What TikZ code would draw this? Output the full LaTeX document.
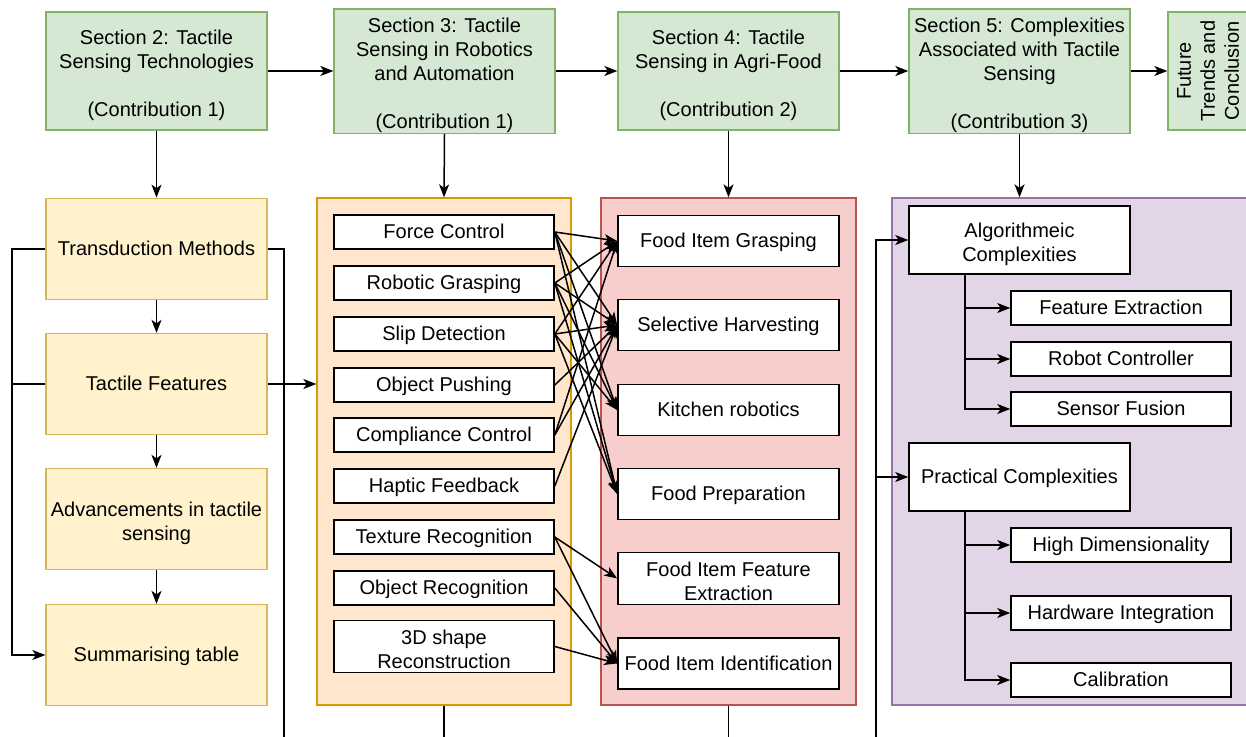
\documentclass[tikz,border=0pt]{standalone}
\usepackage{fontspec}
\setmainfont{Liberation Sans}
\usetikzlibrary{arrows.meta}
\definecolor{gfill}{HTML}{D5E8D4}\definecolor{gline}{HTML}{82B366}
\definecolor{yfill}{HTML}{FFF2CC}\definecolor{yline}{HTML}{D6B656}
\definecolor{ofill}{HTML}{FFE6CC}\definecolor{oline}{HTML}{D79B00}
\definecolor{rfill}{HTML}{F8CECC}\definecolor{rline}{HTML}{B85450}
\definecolor{pfill}{HTML}{E1D5E7}\definecolor{pline}{HTML}{9673A6}
\newcommand{\firstht}{\rule{0pt}{24pt}}
\begin{document}
\begin{tikzpicture}[x=1pt,y=-1pt,font=\fontsize{20}{24}\selectfont,
  arr/.style={line width=1.5pt,-{Stealth[length=13pt,width=10pt,inset=3.5pt]}},
  ln/.style={line width=1.5pt},
  txt/.style={align=center,inner sep=0pt,execute at begin node={\rule{0pt}{18pt}},execute at end node={\rule[-4.3pt]{0pt}{4.3pt}}},
  gbox/.style={txt,draw=gline,fill=gfill,line width=1.3pt,minimum width=221pt,minimum height=118pt},
  ybox/.style={txt,draw=yline,fill=yfill,line width=1.3pt,minimum width=221pt,minimum height=101pt},
  wbox/.style={txt,draw=black,fill=white,line width=1.6pt,minimum width=220pt,minimum height=34pt},
  rbox/.style={txt,draw=black,fill=white,line width=1.6pt,minimum width=221pt,minimum height=51pt}]
\useasboundingbox (0,0) rectangle (1246,736);
% top row
\node[gbox] (s2) at (156.5,71) {\firstht Section 2: Tactile\\Sensing Technologies\\~\\(Contribution 1)};
\node[gbox] (s3) at (444.5,71) {\firstht Section 3: Tactile\\Sensing in Robotics\\and Automation\\~\\(Contribution 1)};
\node[gbox] (s4) at (728.5,71) {\firstht Section 4: Tactile\\Sensing in Agri-Food\\~\\(Contribution 2)};
\node[gbox] (s5) at (1019.5,71) {\firstht Section 5: Complexities\\Associated with Tactile\\Sensing\\~\\(Contribution 3)};
\node[draw=gline,fill=gfill,line width=1.3pt,inner sep=0pt,minimum width=84pt,minimum height=118pt] (fu) at (1210,71) {};
\node[rotate=90,align=center] (fut) at (1208,71) {Future\\Trends and\\Conclusion};
\draw[arr] (s2.east) -- (s3.west);
\draw[arr] (s3.east) -- (s4.west);
\draw[arr] (s4.east) -- (s5.west);
\draw[arr] (s5.east) -- (fu.west);
% containers
\node[draw=oline,fill=ofill,line width=1.3pt,inner sep=0pt,minimum width=254pt,minimum height=507pt] (oc) at (444,451.5) {};
\node[draw=rline,fill=rfill,line width=1.3pt,inner sep=0pt,minimum width=255pt,minimum height=507pt] (rc) at (728.5,451.5) {};
\node[draw=pline,fill=pfill,line width=1.3pt,inner sep=0pt,minimum width=360pt,minimum height=507pt] (pc) at (1072,451.5) {};
\draw[arr] (s2.south) -- ++(0,67);
\draw[arr] (s3.south) -- (oc.north);
\draw[arr] (s4.south) -- (rc.north);
\draw[arr] (s5.south) -- (s5.south |- pc.north);
% yellow column
\node[ybox] (tm) at (156.5,249) {Transduction Methods};
\node[ybox] (tf) at (156.5,384) {Tactile Features};
\node[ybox] (ad) at (156.5,519) {\firstht Advancements in tactile\\sensing};
\node[ybox] (st) at (156.5,655) {Summarising table};
\draw[arr] (tm.south) -- (tf.north);
\draw[arr] (tf.south) -- (ad.north);
\draw[arr] (ad.south) -- (st.north);
\coordinate (lx) at (12,0);
\draw[arr] (tm.west) -- (tm.west -| lx) |- (st.west);
\draw[ln] (tf.west) -- (tf.west -| lx);
\coordinate (b1) at (284,737);
\draw[ln] (tm.east) -| (b1);
\draw[arr] (tf.east) -- (tf.east -| oc.west);
% orange items
\node[wbox] (fc) at (444,232) {Force Control};
\node[wbox] (rg) at (444,283) {Robotic Grasping};
\node[wbox] (sd) at (444,334) {Slip Detection};
\node[wbox] (op) at (444,385) {Object Pushing};
\node[wbox] (cc) at (444,435) {Compliance Control};
\node[wbox] (hf) at (444,486) {Haptic Feedback};
\node[wbox] (tr) at (444,537) {Texture Recognition};
\node[wbox] (orc) at (444,588) {Object Recognition};
\node[wbox,minimum height=51pt] (sr) at (444,646.5) {\firstht 3D shape\\Reconstruction};
% red items
\node[rbox] (fg) at (728.5,241) {Food Item Grasping};
\node[rbox] (sh) at (728.5,325) {Selective Harvesting};
\node[rbox] (kr) at (728.5,410) {Kitchen robotics};
\node[rbox] (fp) at (728.5,494) {Food Preparation};
\node[rbox] (fe) at (728.5,578.5) {\firstht Food Item Feature\\Extraction};
\node[rbox] (fi) at (728.5,663.5) {Food Item Identification};
\foreach \a/\b in {fc/fg,fc/sh,fc/kr,fc/fp,rg/fg,rg/sh,rg/kr,rg/fp,sd/fg,sd/sh,sd/kr,sd/fp,op/sh,cc/fg,cc/sh,hf/sh,tr/fe,tr/fi,orc/fi,sr/fi}
  \draw[arr] (\a.east) -- (\b.west);
\coordinate (b2) at (444,737);
\coordinate (b3) at (728.5,737);
\draw[ln] (oc.south) -- (b2);
\draw[ln] (rc.south) -- (b3);
% purple items
\node[txt,draw=black,fill=white,line width=1.6pt,minimum width=221pt,minimum height=68pt] (ac) at (1019.5,240) {\firstht Algorithmeic\\Complexities};
\node[txt,draw=black,fill=white,line width=1.6pt,minimum width=221pt,minimum height=68pt] (prc) at (1019.5,477) {Practical Complexities};
\node[wbox] (pfe) at (1121,308) {Feature Extraction};
\node[wbox] (prb) at (1121,359) {Robot Controller};
\node[wbox] (psf) at (1121,409) {Sensor Fusion};
\node[wbox] (phd) at (1121,545) {High Dimensionality};
\node[wbox] (phi) at (1121,613) {Hardware Integration};
\node[wbox] (pca) at (1121,680) {Calibration};
\coordinate (tx) at (965,0);
\foreach \b in {pfe,prb,psf} \draw[arr] (ac.south -| tx) |- (\b.west);
\foreach \b in {phd,phi,pca} \draw[arr] (prc.south -| tx) |- (\b.west);
\coordinate (b4) at (876,737);
\draw[arr] (b4) |- (ac.west);
\draw[arr] (b4) |- (prc.west);
\end{tikzpicture}
\end{document}
